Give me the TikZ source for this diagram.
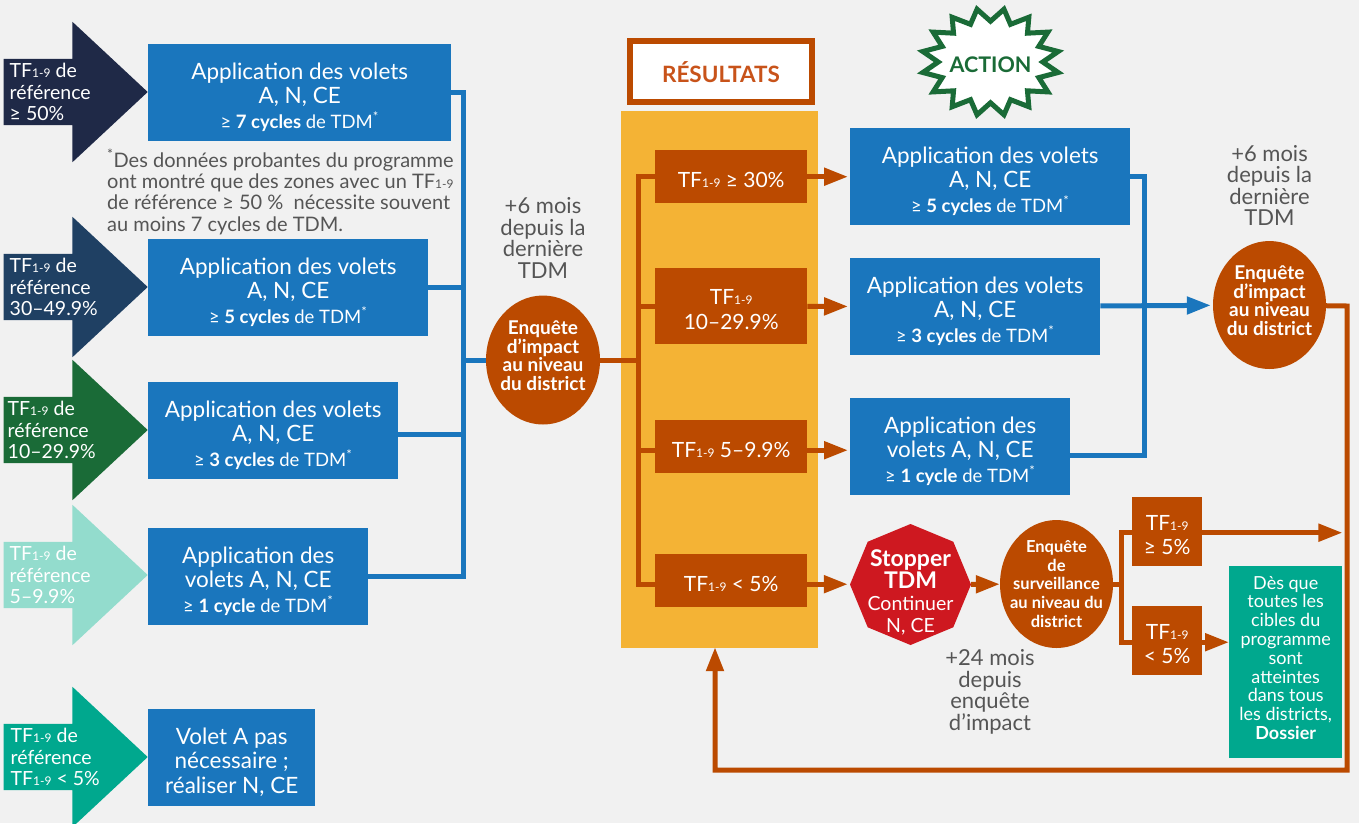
\documentclass[tikz,border=0pt]{standalone}
\usepackage{fontspec}
\setmainfont{Lato}
\usetikzlibrary{positioning, shapes.geometric, shapes.arrows, arrows.meta, calc}

\definecolor{pagegray}{HTML}{F1F1F1}
\definecolor{voletblue}{HTML}{1A76BD}
\definecolor{burnt}{HTML}{BB4A00}
\definecolor{amber}{HTML}{F4B335}
\definecolor{forest}{HTML}{1A6B37}
\definecolor{stopred}{HTML}{CE1820}
\definecolor{navy}{HTML}{1F2947}
\definecolor{slate}{HTML}{1F4063}
\definecolor{mint}{HTML}{93DCCD}
\definecolor{teal}{HTML}{00A88E}
\definecolor{titleorange}{HTML}{C8531A}
\definecolor{notegray}{HTML}{555555}

% TF 1-9 with its small index
\newcommand{\tfn}{TF{\fontsize{12}{12}\selectfont 1-9}}
% Small last line of a volet box
\newcommand{\cycles}[2]{{\fontsize{18.5}{24.5}\selectfont ≥ \textbf{#1 #2} de TDM\textsuperscript{*}}}
% Bold line of the stop box
\newcommand{\stopline}[1]{{\bfseries\fontsize{23}{22}\selectfont #1}}
% Extra depth under the last line, to lift a text
\newcommand{\liftrule}{\rule[-9pt]{0pt}{9pt}}

\begin{document}
\begin{tikzpicture}[
    x=1pt, y=-1pt,
    % Styles
    level/.style={ % Big arrow of a reference level
        single arrow,
        single arrow tip angle=86,
        single arrow head extend=37,
        minimum height=144,
        text height=66,
        inner sep=0,
        anchor=tip
    },
    leveltext/.style={ % Text on a big arrow
        text=white,
        align=left,
        inner sep=0,
        font=\fontsize{19.5}{21.5}\selectfont
    },
    volet/.style={ % Blue treatment box
        rectangle,
        fill=voletblue,
        text=white,
        align=center,
        anchor=north west,
        minimum height=97,
        inner sep=0,
        font=\fontsize{22.5}{24.5}\selectfont,
        execute at begin node=\rule{0pt}{74pt}
    },
    result/.style={ % Orange result box
        rectangle,
        fill=burnt,
        text=white,
        align=center,
        anchor=north west,
        inner sep=0,
        font=\fontsize{21}{24.5}\selectfont,
        execute at begin node=\rule{0pt}{21pt}
    },
    resulttwo/.style={ % Result box with two lines
        result,
        execute at begin node=\rule{0pt}{46pt}
    },
    survey/.style={ % Orange survey ellipse
        ellipse,
        fill=burnt,
        text=white,
        align=center,
        inner sep=-16pt,
        font=\bfseries\fontsize{16.5}{18.8}\selectfont
    },
    impact/.style={ % Survey with its text a bit higher
        survey,
        font=\bfseries\fontsize{19}{18.5}\selectfont,
        execute at end node=\liftrule
    },
    note/.style={ % Gray text
        text=notegray,
        align=center,
        inner sep=0,
        font=\fontsize{22}{21.5}\selectfont
    },
    blueline/.style={
        voletblue,
        line width=5pt
    },
    orangeline/.style={
        burnt,
        line width=5pt
    },
    bluearrow/.style={
        blueline,
        -{Triangle[length=24pt, width=17pt]}
    },
    orangearrow/.style={
        orangeline,
        -{Triangle[length=24pt, width=17pt]}
    }
]

    % Page
    \fill[pagegray] (0,0) rectangle (1359,823);
    \clip (0,0) rectangle (1359,823);

    % Reference levels
    \foreach \X/\Y/\C in {1/92/navy, 2/287/slate, 3/430/forest, 4/575/mint, 5/757/teal} {
        \node[level, fill=\C] (level\X) at (148,\Y) {};
    }
    \node[leveltext, right=6pt of level1.tail] (leveltext1) {\tfn{} de\\référence\\≥ 50\%};
    \node[leveltext, right=6pt of level2.tail] (leveltext2) {\tfn{} de\\référence\\30–49.9\%};
    \node[leveltext, right=4pt of level3.tail] (leveltext3) {\tfn{} de\\référence\\10–29.9\%};
    \node[leveltext, right=6pt of level4.tail] (leveltext4) {\tfn{} de\\référence\\5–9.9\%};
    \node[leveltext, right=7pt of level5.tail] (leveltext5) {\tfn{} de\\référence\\\tfn{} < 5\%};

    % Treatment boxes
    \node[volet, minimum width=303] (volet1) at (148,44) {Application des volets\\A, N, CE\\\cycles{7}{cycles}};
    \node[volet, minimum width=280] (volet2) at (148,239) {Application des volets\\A, N, CE\\\cycles{5}{cycles}};
    \node[volet, minimum width=250] (volet3) at (148,382) {Application des volets\\A, N, CE\\\cycles{3}{cycles}};
    \node[volet, minimum width=220] (volet4) at (148,528) {Application des\\volets A, N, CE\\\cycles{1}{cycle}};
    \node[volet, minimum width=167] (volet5) at (148,709) {Volet A pas\\nécessaire ;\\réaliser N, CE};

    % Footnote
    \node[note, anchor=north west, align=left, font=\fontsize{20}{21.3}\selectfont] (footnote) at (107,149)
        {\textsuperscript{*}Des données probantes du programme\\ont montré que des zones avec un \tfn\\de référence ≥ 50 \%\ \ nécessite souvent\\au moins 7 cycles de TDM.};

    % First survey
    \node[impact, minimum width=114, minimum height=129] (impact1) at (543,360) {Enquête\\d'impact\\au niveau\\du district};
    \node[note, above=17pt of impact1] (delay1) {+6 mois\\depuis la\\dernière\\TDM};
    \coordinate (trunk1) at (463,360);
    \coordinate (volet3out) at ($(volet3.east)+(0,4)$);
    \foreach \X in {volet1.east, volet2.east, volet3out, volet4.east} {
        \draw[blueline] (\X) -| (trunk1);
    }
    \draw[blueline] (trunk1) -- (impact1);

    % Results
    \node[rectangle, fill=amber, minimum width=197, minimum height=537, inner sep=0] (panel) at (719.5,379.5) {};
    \node[rectangle, draw=burnt, line width=6pt, fill=white, minimum width=182, minimum height=61, inner sep=0,
        text=titleorange, font=\bfseries\fontsize{22.5}{24}\selectfont,
        execute at begin node=\rule{0pt}{22pt}] (restitle) at (721,71.5) {RÉSULTATS};
    \node[result, minimum width=152, minimum height=53] (res1) at (655,150) {\tfn{} ≥ 30\%};
    \node[resulttwo, minimum width=152, minimum height=76] (res2) at (655,268) {\tfn\\10–29.9\%};
    \node[result, minimum width=152, minimum height=53] (res3) at (655,420) {\tfn{} 5–9.9\%};
    \node[result, minimum width=152, minimum height=53] (res4) at (655,554) {\tfn{} < 5\%};

    % Actions
    \node[star, star points=16, star point ratio=1.32, shape border rotate=11.25, draw=forest, line width=5pt, fill=white,
        minimum size=138, inner sep=0, yscale=0.78, transform shape] (action) at (990.5,62) {};
    \node[text=forest, inner sep=0, font=\bfseries\fontsize{21.5}{24}\selectfont] (actiontext) at (990.5,65) {ACTION};
    \node[volet, minimum width=280] (act1) at (850,128) {Application des volets\\A, N, CE\\\cycles{5}{cycles}};
    \node[volet, minimum width=250] (act2) at (850,258) {Application des volets\\A, N, CE\\\cycles{3}{cycles}};
    \node[volet, minimum width=220] (act3) at (850,398) {Application des\\volets A, N, CE\\\cycles{1}{cycle}};

    % Arrows from the results
    \coordinate (trunk2) at (638,360);
    \coordinate (res3in) at ($(res3.west)+(0,3.5)$);
    \coordinate (res4in) at ($(res4.west)+(0,3.5)$);
    \coordinate (res3out) at ($(res3.east)+(0,3.5)$);
    \coordinate (res4out) at ($(res4.east)+(0,3.5)$);
    \draw[orangeline] (impact1) -- (trunk2);
    \draw[orangeline] (res1.west) -| (trunk2);
    \draw[orangeline] (res2.west) -| (trunk2);
    \draw[orangeline] (res3in) -| (trunk2);
    \draw[orangeline] (res4in) -| (trunk2);
    \draw[orangearrow, shorten >=2pt] (res1) -- (act1);
    \draw[orangearrow, shorten >=2pt] (res2) -- (act2);
    \draw[orangearrow, shorten >=2pt] (res3out) -- (res3out -| act3.west);

    % Second survey
    \node[impact, minimum width=113, minimum height=128] (impact2) at (1269.5,305) {Enquête\\d'impact\\au niveau\\du district};
    \node[note, above=15pt of impact2] (delay2) {+6 mois\\depuis la\\dernière\\TDM};
    \coordinate (trunk3) at (1144,306);
    \coordinate (act3out) at ($(act3.east)+(0,8.5)$);
    \draw[blueline] (act1.east) -| (trunk3);
    \draw[blueline] (act3out) -| (trunk3);
    \draw[bluearrow, shorten >=2pt] (act2) -- (impact2);

    % Stop box and surveillance
    \node[regular polygon, regular polygon sides=8, shape border rotate=22.5, fill=stopred, minimum size=121, inner sep=0] (stopbox) at (910.5,584.5) {};
    \node[text=white, align=center, inner sep=0, font=\fontsize{19.5}{22}\selectfont] (stoptext) at (910.5,592)
        {\stopline{Stopper}\\\stopline{TDM}\\Continuer\\N, CE};
    \node[survey, minimum width=113, minimum height=128] (watch) at (1056.5,584)
        {Enquête\\de\\surveillance\\au niveau du\\district};
    \node[note] (delay3) at (990,692) {+24 mois\\depuis\\enquête\\d'impact};
    \draw[orangearrow, shorten >=2pt] (res4out) -- (res4out -| stopbox.west);
    \draw[orangearrow] (stopbox) -- (watch);

    % Results of surveillance
    \node[resulttwo, minimum width=70, minimum height=69] (high) at (1132,497) {\tfn\\≥ 5\%};
    \node[resulttwo, minimum width=70, minimum height=69] (low) at (1132,606) {\tfn\\< 5\%};
    \node[rectangle, fill=teal, text=white, align=center, anchor=north west, minimum width=113, minimum height=192, inner sep=0,
        font=\fontsize{18}{18.8}\selectfont,
        execute at end node=\liftrule] (dossier) at (1229,566)
        {Dès que\\toutes les\\cibles du\\programme\\sont\\atteintes\\dans tous\\les districts,\\\textbf{Dossier}};
    \coordinate (trunk4) at (1121,584);
    \coordinate (lowin) at ($(low.west)+(0,1.5)$);
    \coordinate (lowout) at ($(low.east)+(0,1.5)$);
    \coordinate (highin) at ($(high.west)+(0,1)$);
    \coordinate (highout) at ($(high.east)+(0,1)$);
    \draw[orangeline] (watch) -- (trunk4);
    \draw[orangeline] (highin) -| (trunk4);
    \draw[orangeline] (lowin) -| (trunk4);
    \draw[orangearrow] (lowout) -- (lowout -| dossier.west);
    \draw[orangearrow] (highout) -- (highout -| dossier.east);

    % Return line
    \coordinate (corner1) at (1347,306);
    \coordinate (corner2) at (1347,770);
    \coordinate (corner3) at (715,770);
    \draw[orangearrow, shorten >=-1pt] (impact2) -- (corner1) -- (corner2) -- (corner3) -- (corner3 |- panel.south);

\end{tikzpicture}
\end{document}
